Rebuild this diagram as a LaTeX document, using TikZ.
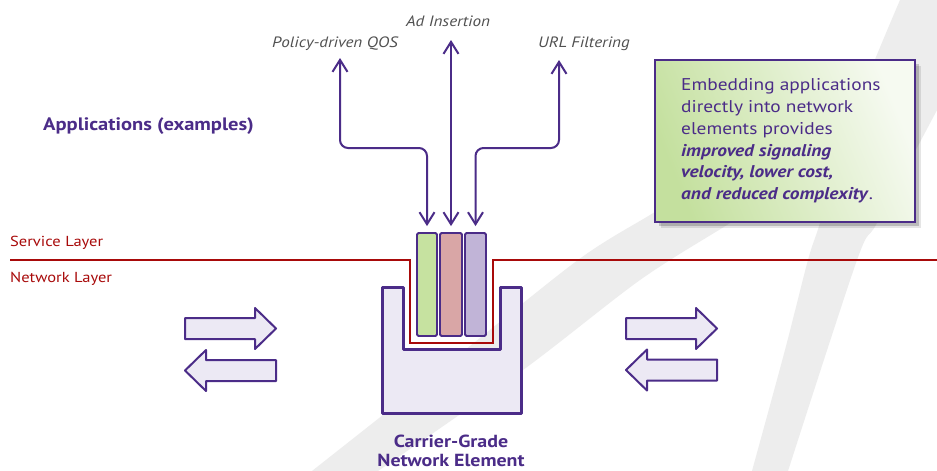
\documentclass[tikz,border=0pt]{standalone}
\usepackage{fontspec}
\setmainfont{PT Sans}[FakeStretch=1.14]
\usetikzlibrary{arrows.meta,shadows}
\definecolor{purp}{HTML}{4B2C88}
\definecolor{dred}{HTML}{A80A0A}
\definecolor{lav}{HTML}{ECE9F4}
\definecolor{bandgrey}{HTML}{EDEDED}
\definecolor{gcol}{HTML}{C6E2A0}
\definecolor{pcol}{HTML}{D9A6A6}
\definecolor{vcol}{HTML}{C1B4D7}
\definecolor{lblgrey}{HTML}{505050}
\definecolor{notegreen}{HTML}{C4E09E}
\definecolor{notelight}{HTML}{F6FAF1}
\tikzset{
  toplabel/.style={font=\fontsize{15}{18}\selectfont\itshape, text=lblgrey, inner sep=0pt, anchor=base},
  layerlabel/.style={font=\fontsize{14.5}{17}\selectfont, text=dred, inner sep=0pt, anchor=base west},
  titlelabel/.style={font=\fontsize{18}{21}\selectfont\bfseries, text=purp, inner sep=0pt},
  appcol/.style={draw=purp, line width=1.8pt, rounded corners=1.5pt, minimum width=20pt, minimum height=103pt, inner sep=0pt},
  conn/.style={draw=purp, line width=2pt, rounded corners=8pt, {Straight Barb[length=12pt,width=15pt]}-{Straight Barb[length=12pt,width=15pt]}},
  blk/.style={draw=purp, fill=lav, line width=2pt, line join=round},
  rarr/.pic={\path[blk] (-45.5,-10.5) -- (24.5,-10.5) -- (24.5,-20.5) -- (45.5,0) -- (24.5,20.5) -- (24.5,10.5) -- (-45.5,10.5) -- cycle;},
  larr/.pic={\path[blk] (45.5,-10.5) -- (-24.5,-10.5) -- (-24.5,-20.5) -- (-45.5,0) -- (-24.5,20.5) -- (-24.5,10.5) -- (45.5,10.5) -- cycle;},
  notebox/.style={draw=purp, line width=1.2pt, minimum width=260pt, minimum height=162pt, inner sep=0pt,
    top color=notelight, bottom color=notegreen, shading angle=-68,
    drop shadow={shadow xshift=6pt, shadow yshift=-6pt, fill=black, opacity=0.10},
    drop shadow={shadow xshift=4pt, shadow yshift=-4pt, fill=black, opacity=0.18}},
  notetext/.style={font=\fontsize{17}{21.8}\selectfont, text=purp, inner sep=0pt, align=left, anchor=north west}
}
\begin{document}
\begin{tikzpicture}[x=1pt,y=-1pt]
\useasboundingbox (0,0) rectangle (937,471);
\fill[white] (0,0) rectangle (937,471);
% background swooshes
\begin{scope}
\clip (0,0) rectangle (937,471);
\fill[bandgrey] plot[smooth] coordinates {(312,471) (450,362) (578,260) (650,215) (700,185)} -- (840,150)
  -- plot[smooth] coordinates {(800,180) (727,225) (640,280) (523,370) (378,471)} -- cycle;
\fill[bandgrey] plot[smooth] coordinates {(752,471) (785,350) (808,260) (820,223) (855,110) (900,0)} -- (945,0) -- (945,95)
  -- plot[smooth] coordinates {(928,127) (877,223) (857,260) (788,471)} -- cycle;
\end{scope}

% layers
\node[layerlabel] (svc) at (10,246) {Service Layer};
\node[layerlabel] (net) at (10,282) {Network Layer};
\draw[dred, line width=2pt] (10,260) -- (410,260) -- (410,343) -- (493,343) -- (493,260) -- (937,260);

% network element
\draw[draw=purp, fill=lav, line width=3pt, line join=round]
  (382,287) -- (403,287) -- (403,349) -- (500,349) -- (500,287) -- (521,287) -- (521,413) -- (382,413) -- cycle;
\draw[dred, line width=2pt] (410,300) -- (410,343) -- (493,343) -- (493,300);

% application columns
\node[appcol, fill=gcol] (colG) at (427,284.5) {};
\node[appcol, fill=pcol, minimum width=22pt] (colP) at (451,284.5) {};
\node[appcol, fill=vcol, minimum width=21pt] (colV) at (475.5,284.5) {};

% labels
\node[toplabel] (ad) at (448,26) {Ad Insertion};
\node[toplabel] (qos) at (335,47) {Policy-driven QOS};
\node[toplabel] (url) at (584,47) {URL Filtering};
\node[titlelabel, anchor=base west] (apps) at (43,130) {Applications (examples)};
\node[titlelabel, align=center, anchor=north, font=\fontsize{17.5}{19}\selectfont\bfseries] (ne) at (451,435) {Carrier-Grade\\Network Element};

% connectors
\coordinate (qTop) at (340,58);
\coordinate (aTop) at (451,40);
\coordinate (uTop) at (559,60);
\coordinate (qMid) at (340,148);
\coordinate (uMid) at (559,148);
\draw[conn] (qTop) -- (qMid) -| ([yshift=6pt]colG.north);
\draw[conn] (aTop) -- ([yshift=6pt]colP.north);
\draw[conn] (uTop) -- (uMid) -| ([yshift=6pt]colV.north);

% traffic arrows
\pic at (230.5,328.5) {rarr};
\pic at (230.5,370.5) {larr};
\pic at (671.5,328.5) {rarr};
\pic at (671.5,370) {larr};

% note box
\node[notebox] (note) at (785,141) {};
\node[notetext] (notetxt) at (681,78.5) {Embedding applications\\directly into network\\elements provides\\\textbf{\textit{improved signaling}}\\\textbf{\textit{velocity, lower cost,}}\\\textbf{\textit{and reduced complexity}}.};
\end{tikzpicture}
\end{document}
